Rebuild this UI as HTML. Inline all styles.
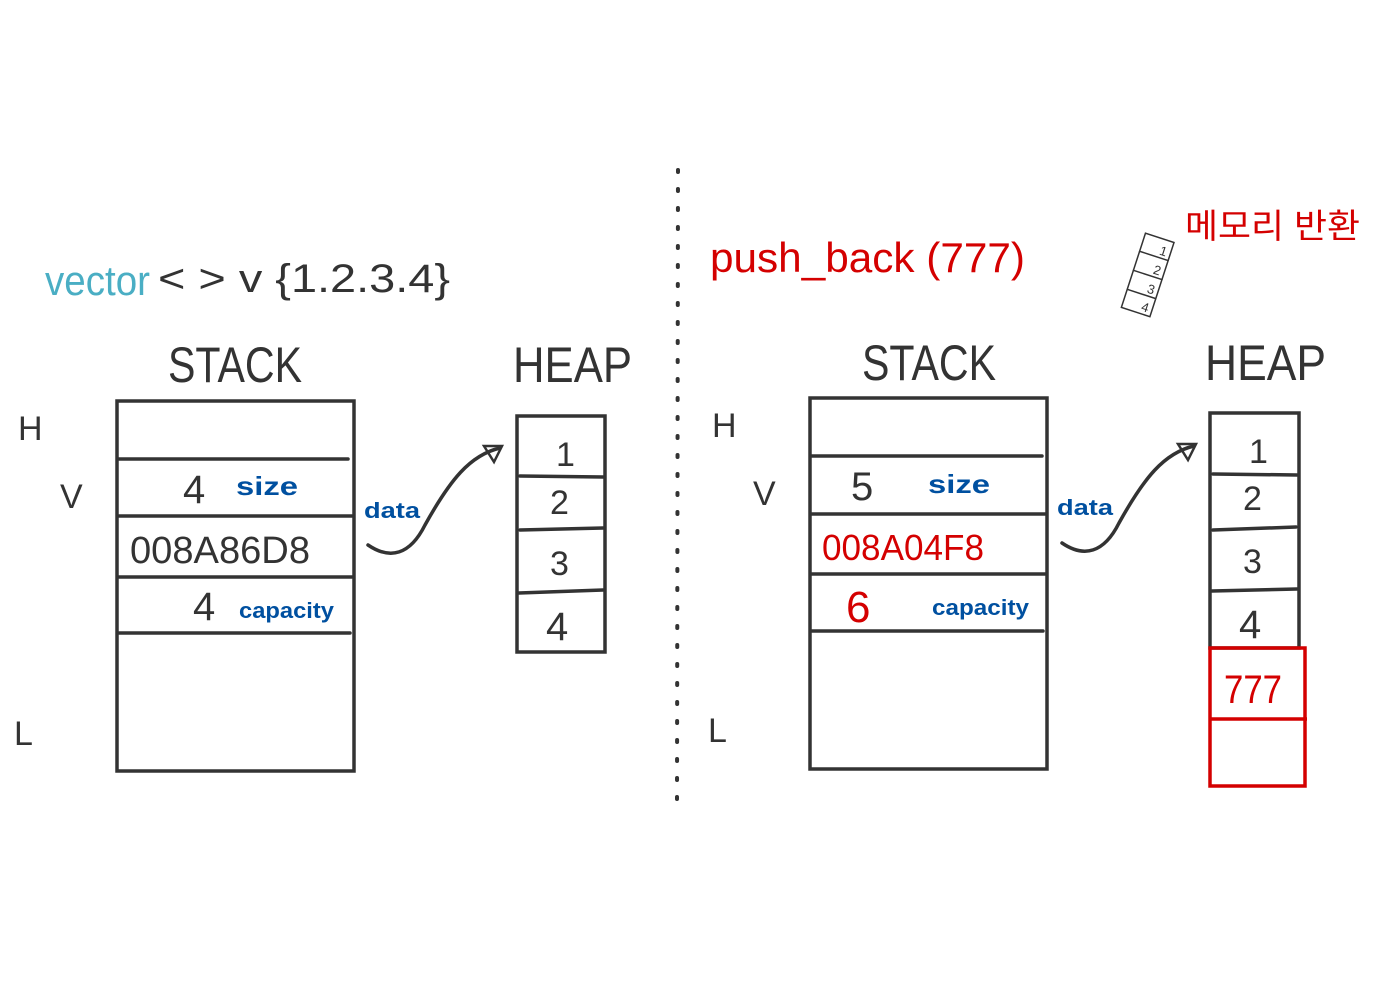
<!DOCTYPE html>
<html><head><meta charset="utf-8"><style>
html,body{margin:0;padding:0;background:#fff;width:1400px;height:1000px;overflow:hidden}
svg text{font-family:"Liberation Sans","Noto Sans CJK KR",sans-serif}
</style></head><body>
<svg width="1400" height="1000" viewBox="0 0 1400 1000" xmlns="http://www.w3.org/2000/svg">
<g fill="none" stroke="#333" stroke-width="3.5" stroke-linecap="round">
<rect x="117" y="401" width="237" height="370"/>
<line x1="119" y1="459" x2="348" y2="459"/>
<line x1="119" y1="516" x2="352" y2="516"/>
<line x1="119" y1="577" x2="352" y2="577"/>
<line x1="119" y1="633" x2="350" y2="633"/>
<rect x="517" y="416" width="88" height="236"/>
<line x1="520" y1="476" x2="603" y2="477"/>
<line x1="520" y1="530" x2="603" y2="528"/>
<line x1="519" y1="593" x2="603" y2="590"/>
<rect x="810" y="398" width="237" height="371"/>
<line x1="812" y1="456" x2="1042" y2="456"/>
<line x1="812" y1="514" x2="1045" y2="514"/>
<line x1="812" y1="574" x2="1045" y2="574"/>
<line x1="812" y1="631" x2="1043" y2="631"/>
<rect x="1210" y="413" width="89" height="235"/>
<line x1="1213" y1="474" x2="1297" y2="475"/>
<line x1="1213" y1="530" x2="1296" y2="527"/>
<line x1="1212" y1="591" x2="1297" y2="589"/>
<path d="M368 545 C390 560 410 555 425 525 C450 480 470 455 500 448"/>
<path d="M484 446 L502 446 L494 462 Z" stroke-width="2.5"/>
<path d="M1062 543 C1084 558 1104 553 1119 523 C1144 478 1164 453 1194 446"/>
<path d="M1178 444 L1196 444 L1188 460 Z" stroke-width="2.5"/>
<g transform="rotate(18 1148 274)" stroke-width="1.5">
<rect x="1133" y="236" width="30" height="78"/>
<line x1="1133" y1="255" x2="1163" y2="255"/><line x1="1133" y1="275" x2="1163" y2="275"/><line x1="1133" y1="295" x2="1163" y2="295"/>
</g>
</g>
<g fill="none" stroke="#d40000" stroke-width="3.5">
<rect x="1210" y="648" width="95" height="138"/>
<line x1="1210" y1="719" x2="1307" y2="719"/>
</g>
<line x1="678" y1="170" x2="677" y2="800" stroke="#333" stroke-width="4" stroke-dasharray="2 17" stroke-linecap="round"/>
<g font-size="13" fill="#333">
<text x="1152" y="252" transform="rotate(18 1148 274)">1</text>
<text x="1152" y="272" transform="rotate(18 1148 274)">2</text>
<text x="1152" y="292" transform="rotate(18 1148 274)">3</text>
<text x="1152" y="311" transform="rotate(18 1148 274)">4</text>
</g>
<text x="45" y="295" font-size="42" fill="#4aaec4" textLength="105" lengthAdjust="spacingAndGlyphs">vector</text>
<text x="158" y="292" font-size="40" fill="#333" textLength="292" lengthAdjust="spacingAndGlyphs">&lt; &gt;  v {1.2.3.4}</text>
<text x="710" y="272" font-size="42" fill="#d40000" textLength="315" lengthAdjust="spacingAndGlyphs">push_back (777)</text>
<text x="1185" y="238" font-size="34" fill="#d40000" textLength="175" lengthAdjust="spacingAndGlyphs">메모리 반환</text>
<g fill="#333" font-size="50">
<text x="168" y="382" textLength="134" lengthAdjust="spacingAndGlyphs">STACK</text>
<text x="513" y="382" textLength="119" lengthAdjust="spacingAndGlyphs">HEAP</text>
<text x="862" y="380" textLength="134" lengthAdjust="spacingAndGlyphs">STACK</text>
<text x="1205" y="380" textLength="121" lengthAdjust="spacingAndGlyphs">HEAP</text>
</g>
<g fill="#333" font-size="34">
<text x="18" y="440">H</text><text x="60" y="508">V</text><text x="14" y="745">L</text>
<text x="712" y="437">H</text><text x="753" y="505">V</text><text x="708" y="742">L</text>
<text x="183" y="503" font-size="40">4</text>
<text x="130" y="563" font-size="38" textLength="180" lengthAdjust="spacingAndGlyphs">008A86D8</text>
<text x="193" y="620" font-size="40">4</text>
<text x="851" y="500" font-size="40">5</text>
<text x="556" y="466">1</text><text x="550" y="514">2</text><text x="550" y="575">3</text><text x="546" y="640" font-size="40">4</text>
<text x="1249" y="463">1</text><text x="1243" y="510">2</text><text x="1243" y="573">3</text><text x="1239" y="638" font-size="40">4</text>
</g>
<g fill="#d40000">
<text x="822" y="560" font-size="36" textLength="162" lengthAdjust="spacingAndGlyphs">008A04F8</text>
<text x="846" y="622" font-size="44">6</text>
<text x="1224" y="703" font-size="40" textLength="58" lengthAdjust="spacingAndGlyphs">777</text>
</g>
<g fill="#0050a0" font-weight="bold">
<text x="236" y="495" font-size="26" textLength="62" lengthAdjust="spacingAndGlyphs">size</text>
<text x="239" y="618" font-size="22" textLength="95" lengthAdjust="spacingAndGlyphs">capacity</text>
<text x="928" y="493" font-size="26" textLength="62" lengthAdjust="spacingAndGlyphs">size</text>
<text x="932" y="615" font-size="22" textLength="97" lengthAdjust="spacingAndGlyphs">capacity</text>
<text x="364" y="518" font-size="22" textLength="56" lengthAdjust="spacingAndGlyphs">data</text>
<text x="1057" y="515" font-size="22" textLength="56" lengthAdjust="spacingAndGlyphs">data</text>
</g>
</svg>
</body></html>
